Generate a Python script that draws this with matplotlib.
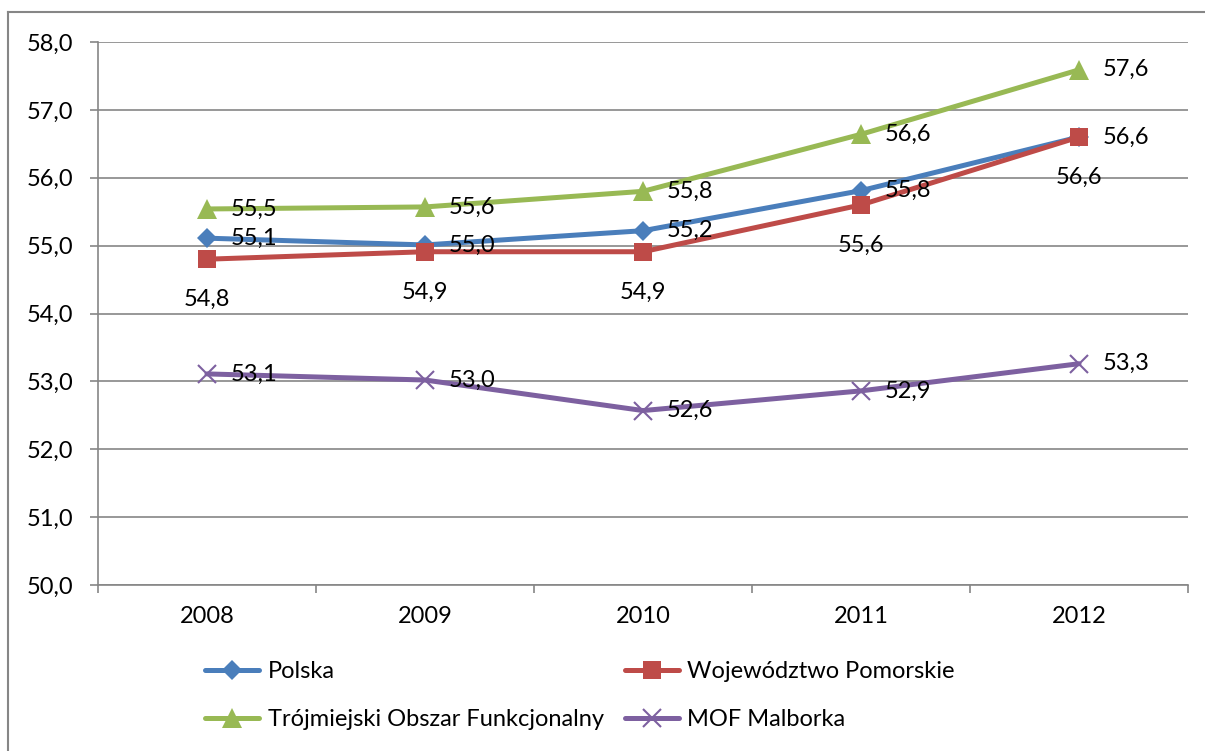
import matplotlib.pyplot as plt
from matplotlib.lines import Line2D
from matplotlib.ticker import FuncFormatter, FixedLocator

plt.rcParams['font.family'] = ['Lato', 'DejaVu Sans']

years = ['2008', '2009', '2010', '2011', '2012']
polska = [55.11, 55.01, 55.22, 55.81, 56.60]
pomorskie = [54.80, 54.91, 54.91, 55.60, 56.60]
trojmiasto = [55.54, 55.57, 55.80, 56.64, 57.59]
malbork = [53.11, 53.02, 52.57, 52.86, 53.26]

names = ['Polska', 'Województwo Pomorskie',
         'Trójmiejski Obszar Funkcjonalny', 'MOF Malborka']
colors = ['#4A7EBB', '#BE4B48', '#98B954', '#7D60A0']

W, H = 1205, 751
fig = plt.figure(figsize=(W / 100, H / 100), dpi=100)
ax = fig.add_axes([98 / W, 1 - 585 / H, (1188 - 98) / W, (585 - 42) / H])

x = list(range(len(years)))
fs = 17

# series: (values, marker, size, label side)
series = [
    (polska, 'D', 10, 'right'),
    (pomorskie, 's', 12.5, 'below'),
    (trojmiasto, '^', 14, 'right'),
    (malbork, 'x', 13, 'right'),
]

handles = []
for (vals, mk, ms, side), c, n in zip(series, colors, names):
    mew = 1.5 if mk == 'x' else 0
    h, = ax.plot(x, vals, color=c, lw=3.6, marker=mk, markersize=ms,
                 markerfacecolor=c, markeredgecolor=c, markeredgewidth=mew,
                 label=n, zorder=3, solid_capstyle='round')
    handles.append(h)
    for xi, v in zip(x, vals):
        txt = f'{v:.1f}'.replace('.', ',')
        if side == 'right':
            ax.annotate(txt, (xi, v), xytext=(17, 0), textcoords='offset points',
                        ha='left', va='center', fontsize=fs, zorder=4)
        else:
            ax.annotate(txt, (xi, v), xytext=(0, -29), textcoords='offset points',
                        ha='center', va='center', fontsize=fs, zorder=4)

ax.set_xlim(-0.5, len(years) - 0.5)
ax.set_ylim(50, 58)
ax.set_yticks([50, 51, 52, 53, 54, 55, 56, 57, 58])
ax.yaxis.set_major_formatter(FuncFormatter(lambda v, p: f'{v:.1f}'.replace('.', ',')))
ax.set_xticks(x)
ax.set_xticklabels(years)
ax.xaxis.set_minor_locator(FixedLocator([i - 0.5 for i in range(len(years) + 1)]))

ax.grid(axis='y', color='#868686', lw=1.2)
ax.set_axisbelow(True)
for s in ['top', 'right']:
    ax.spines[s].set_visible(False)
for s in ['left', 'bottom']:
    ax.spines[s].set_color('#868686')
    ax.spines[s].set_linewidth(1.2)

ax.tick_params(axis='y', length=6, width=1.2, color='#868686', pad=12, labelsize=fs)
ax.tick_params(axis='x', which='major', length=0, pad=15, labelsize=fs)
ax.tick_params(axis='x', which='minor', length=6, width=1.2, color='#868686')

order = [0, 2, 1, 3]
leg = fig.legend([handles[i] for i in order], [names[i] for i in order],
                 ncol=2, loc='upper left', bbox_to_anchor=(205 / W, 1 - 661 / H),
                 frameon=False, fontsize=fs, handlelength=2.3, handletextpad=0.35,
                 columnspacing=0.9, labelspacing=1.15, borderpad=0, borderaxespad=0)

# outer chart border (left and top edges visible)
bx, by = 8 / W, 1 - 12 / H
fig.add_artist(Line2D([bx, bx], [0, by], color='#868686', lw=1.5, transform=fig.transFigure))
fig.add_artist(Line2D([bx, 1], [by, by], color='#868686', lw=1.5, transform=fig.transFigure))

fig.savefig('out.png', dpi=100)
